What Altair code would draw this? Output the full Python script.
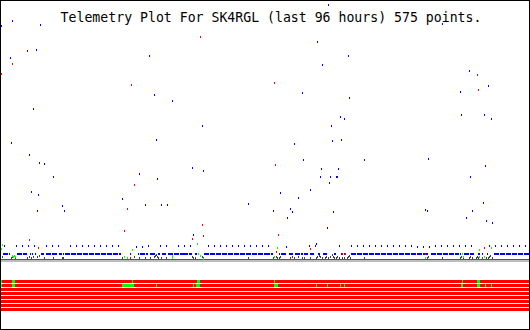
import altair as alt
import pandas as pd

TITLE = "Telemetry Plot For SK4RGL (last 96 hours) 575 points."

# ---- scattered samples (time slot, raw level; level 0 at top) ----
blue_t = [1, 12, 40, 27, 36, 10, 149, 154, 172, 33,
          328, 442, 317, 348, 322, 302, 349, 469, 488, 460,
          11, 202, 156, 29, 39, 44, 192, 203, 53, 139, 157, 31, 38, 122, 145, 161, 167, 248, 62, 37, 64,
          340, 344, 331, 461, 484, 491, 294, 332, 341, 303, 364, 428, 485, 321, 338, 320, 330, 336, 337,
          470, 329, 310, 280, 298, 483, 273, 290, 292, 333, 425, 427, 472, 287, 466,
          193, 327, 486, 492, 316, 315]
blue_v = [25, 20, 24, 50, 49, 57, 55, 94, 100, 108,
          4, 23, 41, 55, 64, 92, 97, 70, 85, 91,
          142, 125, 139, 154, 162, 163, 167, 170, 176, 173, 178, 191, 194, 198, 204, 204, 204, 203, 205, 210, 210,
          116, 118, 125, 114, 114, 118, 143, 140, 139, 159, 159, 158, 165, 168, 168, 176, 176, 176, 176,
          176, 182, 189, 192, 197, 202, 210, 208, 211, 211, 209, 210, 210, 217, 217,
          234, 227, 220, 222, 243, 245]

red_t = [200, 12, 1, 131, 274, 477, 478, 134, 127, 275, 124, 202, 192, 203, 29, 38,
         278, 310, 276, 484, 130, 290, 342, 345, 425]
red_v = [36, 63, 73, 84, 82, 74, 89, 184, 208, 164, 230, 224, 238, 235, 239, 247,
         234, 248, 251, 247, 257, 257, 253, 253, 253]

green_t = [2, 1, 12, 13, 14, 15, 132, 197, 124, 127, 172, 172, 198, 200, 203,
           277, 274, 479, 491, 425, 462, 463, 479, 484]
green_v = [244, 248, 255, 256, 255, 256, 249, 243, 256, 257, 255, 257, 253, 255, 258,
           247, 256, 249, 247, 257, 253, 256, 256, 256]

gray_t = [2, 11, 12, 15, 27, 29, 31, 33, 37, 39, 44, 53, 62, 63, 122, 127, 134, 139, 145, 150,
          154, 155, 156, 157, 158, 161, 166, 192, 193, 195, 202, 203, 248,
          273, 276, 277, 279, 280, 290, 292, 294, 298, 302, 304, 310, 316, 317, 319, 320, 322,
          325, 326, 328, 330, 332, 333, 334, 336, 337, 339, 342, 344, 347, 348, 349, 350, 364,
          427, 428, 442, 460, 461, 463, 469, 470, 472, 476, 477, 478, 482, 484, 486, 488, 489,
          490, 492]
gray_v = [256, 257, 256, 257, 257, 256, 257, 256, 256, 255, 257, 257, 257, 257, 257, 257, 256, 257, 257, 257,
          256, 255, 254, 256, 257, 257, 257, 256, 257, 257, 256, 257, 257,
          257, 256, 257, 257, 256, 257, 256, 257, 256, 257, 257, 257, 257, 256, 255, 256, 257,
          257, 256, 257, 256, 254, 256, 257, 257, 256, 257, 257, 257, 257, 256, 255, 257, 257,
          257, 256, 257, 257, 256, 257, 257, 256, 257, 257, 256, 257, 257, 256, 257, 257, 256,
          255, 257]

# regular blue sample row
row_t = [4, 16, 22, 28, 34, 46, 52, 58, 70, 76, 82, 88, 94, 100, 106, 112, 118, 148, 160, 166,
         178, 184, 190, 208, 214, 220, 226, 232, 238, 244, 250, 256, 262, 268, 309, 339, 351, 357,
         363, 369, 375, 381, 387, 393, 399, 405, 411, 435, 441, 447, 453, 459, 465, 471, 489, 495,
         501, 507, 513, 519, 525,
         136, 142, 286, 417, 423, 429]
row_v = [245] * 61 + [246] * 6

# blue dashed trace segments (start, end)
dash_t1 = [3, 17, 30, 32, 35, 41, 46, 59, 63, 65, 130, 138, 140, 146, 150, 158, 162, 168, 183, 195, 204,
           265, 279, 281, 289, 295, 304, 310, 318, 323, 334, 341, 344, 351, 426, 431, 460, 464, 478, 482,
           487, 494]
dash_t2 = [10, 27, 31, 33, 36, 44, 57, 62, 64, 121, 131, 139, 145, 148, 156, 160, 166, 183, 192, 197, 265,
           273, 280, 286, 293, 303, 308, 314, 320, 327, 336, 342, 345, 425, 428, 459, 461, 474, 480, 483,
           488, 529]
DASH_LEVEL = 254

# status bit stripes
stripe_top = [280, 284, 288, 292, 296, 300, 304, 308]
stripe_bot = [283, 287, 291, 295, 299, 303, 307, 311]
T_START, T_END = 1, 529

bit1_t1 = [1, 12, 132, 197, 274, 462, 477]
bit1_t2 = [2, 15, 133, 200, 275, 463, 480]
bit2_t1 = [1, 12, 122, 156, 193, 196, 274, 316, 327, 340, 344, 461, 477, 485, 491]
bit2_t2 = [2, 15, 134, 157, 194, 200, 278, 317, 328, 341, 345, 463, 480, 486, 492]

base_dark = (259, 260)
base_light = (260, 262)

# ---- scales ----
XP = alt.Scale(domain=[-0.5, 529.5], nice=False, zero=False)
YP = alt.Scale(domain=[-1, 329], reverse=True, nice=False, zero=False)
XR = alt.Scale(domain=[0, 530], nice=False, zero=False)
YR = alt.Scale(domain=[0, 330], reverse=True, nice=False, zero=False)


def pts(t, v, color):
    df = pd.DataFrame({"t": t, "v": v})
    return alt.Chart(df).mark_tick(orient="vertical", size=2, thickness=1, color=color,
                                   opacity=1).encode(
        x=alt.X("t:Q", scale=XP, axis=None),
        y=alt.Y("v:Q", scale=YP, axis=None))


def rects(t1, t2, v1, v2, color):
    df = pd.DataFrame({"t1": t1, "t2": t2, "v1": v1, "v2": v2})
    return alt.Chart(df).mark_rect(color=color, opacity=1, strokeWidth=0).encode(
        x=alt.X("t1:Q", scale=XR, axis=None), x2="t2:Q",
        y=alt.Y("v1:Q", scale=YR, axis=None), y2="v2:Q")


stripes = rects([T_START] * len(stripe_top), [T_END] * len(stripe_top), stripe_top, stripe_bot, "#ff0000")
bit1 = rects(bit1_t1, bit1_t2, [stripe_top[0]] * len(bit1_t1), [stripe_bot[0]] * len(bit1_t1), "#00ff00")
bit2 = rects(bit2_t1, bit2_t2, [stripe_top[1]] * len(bit2_t1), [stripe_bot[1]] * len(bit2_t1), "#00ff00")
bdark = rects([T_START], [T_END], [base_dark[0]], [base_dark[1]], "#555555")
blight = rects([T_START], [T_END], [base_light[0]], [base_light[1]], "#bdbdbd")

dash_df = pd.DataFrame({"t1": dash_t1, "t2": dash_t2, "v": [DASH_LEVEL] * len(dash_t1)})
dash = alt.Chart(dash_df).mark_rule(color="#0000ff", strokeWidth=2, strokeDash=[5, 1]).encode(
    x=alt.X("t1:Q", scale=XR, axis=None), x2="t2:Q",
    y=alt.Y("v:Q", scale=YR, axis=None))

title = alt.Chart(pd.DataFrame({"s": [TITLE]})).mark_text(
    align="center", baseline="alphabetic", font="DejaVu Sans Mono", fontSize=13.2, color="black"
).encode(x=alt.value(271), y=alt.value(22), text="s:N")

chart = alt.layer(
    stripes, bit1, bit2, blight, bdark, dash,
    pts(gray_t, gray_v, "#404040"),
    pts(row_t, row_v, "#0000ff"),
    pts(blue_t, blue_v, "#0000ff"),
    pts(green_t, green_v, "#00ff00"),
    pts(red_t, red_v, "#ff0000"),
    title,
).resolve_scale(x="independent", y="independent").properties(
    width=530, height=330, padding=0,
    autosize=alt.AutoSizeParams(type="none"),
    background="white",
).configure_view(stroke="black", strokeWidth=2)

chart.save("out.html", embed_options={"renderer": "svg", "actions": False})
